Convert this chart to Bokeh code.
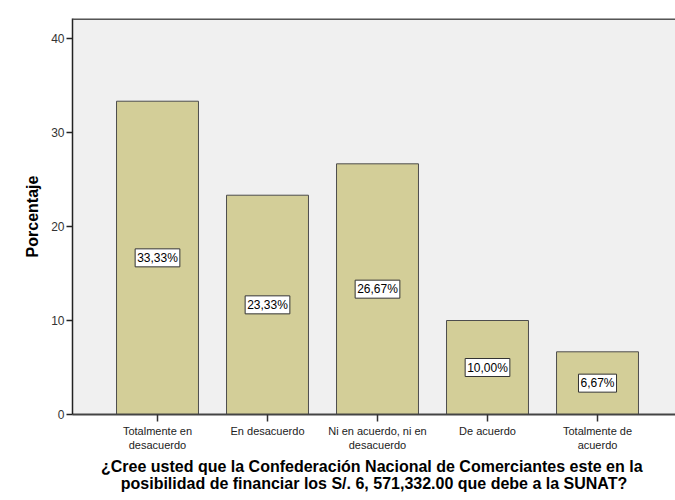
from bokeh.plotting import figure
from bokeh.models import Range1d, FixedTicker, Span, ColumnDataSource, Title
from bokeh.embed import file_html
from bokeh.resources import INLINE
from bokeh.core.properties import value

categories = ["Totalmente en\ndesacuerdo", "En desacuerdo", "Ni en acuerdo, ni en\ndesacuerdo",
              "De acuerdo", "Totalmente de\nacuerdo"]
percentages = [33.33, 23.33, 26.67, 10.00, 6.67]
y_ticks = [0, 10, 20, 30, 40]
x_title_lines = ["¿Cree usted  que la Confederación Nacional de Comerciantes este en la",
                 "posibilidad de financiar los S/. 6, 571,332.00 que debe a la SUNAT?"]
y_title = "Porcentaje"

xs = list(range(1, len(categories) + 1))
labels = [f"{v:.2f}".replace(".", ",") + "%" for v in percentages]
src = ColumnDataSource(dict(x=xs, top=percentages, mid=[v / 2 for v in percentages], lab=labels))

Y_END = 42.13
p = figure(width=675, height=500, output_backend="svg", toolbar_location=None,
           x_range=Range1d(0.2273, 5.709), y_range=Range1d(0, Y_END),
           min_border_left=72, min_border_right=0, min_border_top=18, min_border_bottom=86)
p.background_fill_color = "#F0F0F0"
p.border_fill_color = "white"
p.outline_line_color = None
p.grid.visible = False

p.vbar(x="x", top="top", width=0.745, source=src, fill_color="#D3CE98",
       line_color="#4D4D4D", line_width=1)
p.text(x="x", y="mid", text="lab", source=src, text_align="center", text_baseline="middle",
       text_font=value("Liberation Sans"), text_font_size="12px", text_color="black",
       background_fill_color="white", border_line_color="#333333", border_line_width=1,
       padding=2)

p.add_layout(Span(location=Y_END, dimension="width", line_color="#555555", line_width=3))

p.xaxis.ticker = FixedTicker(ticks=xs)
p.xaxis.major_label_overrides = {x: c for x, c in zip(xs, categories)}
p.xaxis.minor_tick_line_color = None
p.xaxis.major_tick_in = 0
p.xaxis.major_tick_out = 7
p.xaxis.axis_line_color = "#444444"
p.xaxis.axis_line_width = 2
p.xaxis.major_tick_line_color = "#333333"
p.xaxis.major_tick_line_width = 1.5
p.xaxis.major_label_text_font = "Liberation Sans"
p.xaxis.major_label_text_font_size = "11px"
p.xaxis.major_label_text_color = "#222222"
p.xaxis.major_label_standoff = 3

for i, line in enumerate(x_title_lines):
    t = Title(text=line, align="center", text_font="Liberation Sans", text_font_style="bold",
              text_font_size="16px", text_color="black",
              standoff=(5 if i == 0 else -9), offset=0)
    p.add_layout(t, "below")

p.yaxis.ticker = FixedTicker(ticks=y_ticks)
p.yaxis.minor_tick_line_color = None
p.yaxis.major_tick_in = 0
p.yaxis.major_tick_out = 6
p.yaxis.axis_line_color = "#222222"
p.yaxis.axis_line_width = 1.5
p.yaxis.major_tick_line_color = "#222222"
p.yaxis.major_tick_line_width = 1.5
p.yaxis.major_label_text_font = "Liberation Sans"
p.yaxis.major_label_text_font_size = "12px"
p.yaxis.major_label_text_color = "#333333"
p.yaxis.major_label_standoff = 2
p.yaxis.axis_label = y_title
p.yaxis.axis_label_text_font = "Liberation Sans"
p.yaxis.axis_label_text_font_style = "bold"
p.yaxis.axis_label_text_font_size = "16px"
p.yaxis.axis_label_text_color = "black"
p.yaxis.axis_label_standoff = 7

open("out.html", "w").write(file_html(p, INLINE))
